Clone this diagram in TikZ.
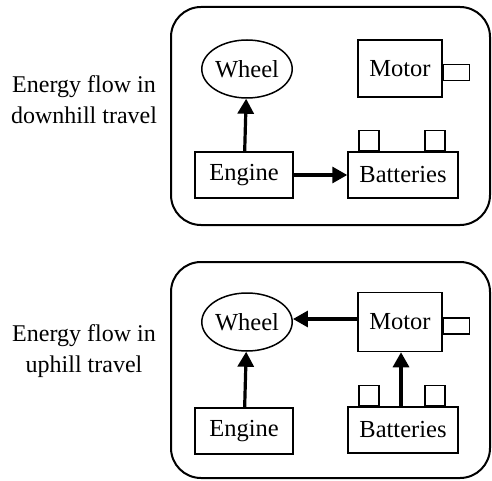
\documentclass[tikz,border=0pt]{standalone}
\usepackage{fontspec}
\setmainfont{Liberation Serif}
\usepackage{tikz}
\usetikzlibrary{arrows.meta,shapes.geometric}

\begin{document}
\begin{tikzpicture}[x=1pt,y=-1pt]
    % Definición de estilos
    \tikzstyle{panel}=[line width=2pt, rounded corners=30pt]
    \tikzstyle{part}=[draw, line width=1.5pt, inner sep=0pt, font=\fontsize{24.5}{28}\selectfont]
    \tikzstyle{wheelpart}=[part, ellipse, minimum width=86pt, minimum height=58pt]
    \tikzstyle{boxpart}=[part, rectangle, minimum height=46pt]
    \tikzstyle{stub}=[draw, line width=1.5pt, inner sep=0pt]
    \tikzstyle{flow}=[line width=3.2pt, -{Triangle[length=15pt,width=16pt]}]
    \tikzstyle{caption}=[align=center, font=\fontsize{24}{31}\selectfont]
    \useasboundingbox (0,0) rectangle (492,481);
    % Marcos redondeados
    \draw[panel] (171,7) rectangle (490,225);
    \draw[panel] (171,262) rectangle (490,478);
    % Textos de la izquierda
    \node[caption] (capdown) at (84,100) {Energy flow in\\downhill travel};
    \node[caption] (capup) at (84,351) {Energy flow in\\uphill travel};
    % Panel superior (bajada)
    \node[wheelpart] (wheelA) at (247,69) {Wheel};
    \node[boxpart, minimum width=84pt, minimum height=57pt] (motorA) at (400,68.5) {Motor};
    \node[stub, anchor=west, minimum width=26pt, minimum height=16pt] (shaftA) at ([yshift=-4pt]motorA.east) {};
    \node[boxpart, minimum width=98pt] (engineA) at (244,175) {Engine};
    \node[boxpart, minimum width=110pt] (batA) at (403,175) {Batteries};
    \node[stub, anchor=south, minimum size=20pt] (termAl) at ([xshift=-34pt]batA.north) {};
    \node[stub, anchor=south, minimum size=20pt] (termAr) at ([xshift=32pt]batA.north) {};
    \draw[flow] (engineA) -- (wheelA);
    \draw[flow] (engineA) -- (batA);
    % Panel inferior (subida)
    \node[wheelpart] (wheelB) at (247,322) {Wheel};
    \node[boxpart, minimum width=84pt, minimum height=59pt] (motorB) at (400,322) {Motor};
    \node[stub, anchor=west, minimum width=26pt, minimum height=16pt] (shaftB) at ([yshift=-4pt]motorB.east) {};
    \node[boxpart, minimum width=98pt] (engineB) at (244,431) {Engine};
    \node[boxpart, minimum width=110pt] (batB) at (403,430) {Batteries};
    \node[stub, anchor=south, minimum size=20pt] (termBl) at ([xshift=-34pt]batB.north) {};
    \node[stub, anchor=south, minimum size=20pt] (termBr) at ([xshift=32pt]batB.north) {};
    \draw[flow] (engineB) -- (wheelB);
    \draw[flow] (motorB.west |- 0,319) -- (wheelB.east |- 0,319);
    \draw[flow] (batB.north -| 401,0) -- (motorB.south -| 401,0);
\end{tikzpicture}
\end{document}
